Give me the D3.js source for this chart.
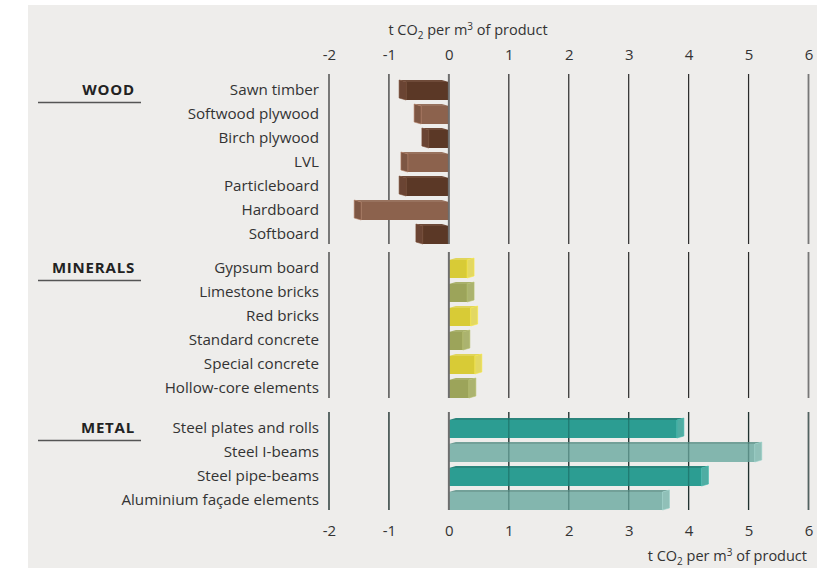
<!DOCTYPE html>
<html>
<head>
<meta charset="utf-8">
<script src="https://cdn.jsdelivr.net/npm/d3@7"></script>
<style>
  body { margin: 0; background: #fff; }
  svg { display: block; font-family: "Open Sans", "Noto Sans", sans-serif; }
</style>
</head>
<body>
<svg id="chart"></svg>
<script>
// chart data
const woodItems = ['Sawn timber', 'Softwood plywood', 'Birch plywood', 'LVL', 'Particleboard', 'Hardboard', 'Softboard'];
const woodValues = [-0.83, -0.58, -0.45, -0.80, -0.83, -1.58, -0.55];
const mineralItems = ['Gypsum board', 'Limestone bricks', 'Red bricks', 'Standard concrete', 'Special concrete', 'Hollow-core elements'];
const mineralValues = [0.42, 0.42, 0.48, 0.35, 0.55, 0.45];
const metalItems = ['Steel plates and rolls', 'Steel I-beams', 'Steel pipe-beams', 'Aluminium façade elements'];
const metalValues = [3.92, 5.22, 4.33, 3.68];
const tickValues = [-2, -1, 0, 1, 2, 3, 4, 5, 6];

// set up constants
const width = 817;
const height = 571;

// colours: [front, side, top] for the two alternating shades of each group
const woodShades = [['#5b3826', '#6a4433', '#6e4a38'], ['#8c624d', '#7d5643', '#98725e']];
const mineralShades = [['#d8cb36', '#e3d862', '#e0d55a'], ['#9ca45a', '#abb36f', '#a8b06b']];
const metalShades = [['#2c9d92', '#4fada3', '#2a857c'], ['#83b6ae', '#90c0b8', '#72a098']];

const groups = [
  { name: 'WOOD', items: woodItems, values: woodValues, shades: woodShades, top: 78, showLines: false },
  { name: 'MINERALS', items: mineralItems, values: mineralValues, shades: mineralShades, top: 256, showLines: false },
  { name: 'METAL', items: metalItems, values: metalValues, shades: metalShades, top: 416, showLines: true }
];

const rowH = 24;
const barH = 20;
const capW = 7;
const depth = 2;

const svg = d3.select('#chart')
  .attr('width', width)
  .attr('height', height);

// grey panel
svg.append('rect')
  .attr('x', 28).attr('y', 5)
  .attr('width', width - 28).attr('height', 563)
  .attr('fill', '#eeedeb');

// x scale
const x = d3.scaleLinear()
  .domain([-2, 6])
  .range([329, 808.5]);

// axes (labels only)
const topAxis = svg.append('g')
  .attr('transform', 'translate(0,60)')
  .call(d3.axisTop(x).tickValues(tickValues).tickSize(0).tickPadding(0).tickFormat(d => String(d)));
const bottomAxis = svg.append('g')
  .attr('transform', 'translate(0,525)')
  .call(d3.axisBottom(x).tickValues(tickValues).tickSize(0).tickPadding(0).tickFormat(d => String(d)));
[topAxis, bottomAxis].forEach(a => {
  a.select('.domain').remove();
  a.selectAll('text')
    .attr('fill', '#333')
    .style('font-size', '15px')
    .style('font-family', '"Open Sans", sans-serif');
});

// axis titles
function unitTitle(xPos, yPos, anchor) {
  const t = svg.append('text')
    .attr('x', xPos).attr('y', yPos)
    .attr('text-anchor', anchor)
    .attr('fill', '#333')
    .style('font-size', '14.5px');
  t.append('tspan').text('t CO');
  t.append('tspan').attr('dy', 4).style('font-size', '10px').text('2');
  t.append('tspan').attr('dy', -4).text(' per m');
  t.append('tspan').attr('dy', -5).style('font-size', '10px').text('3');
  t.append('tspan').attr('dy', 5).text(' of product');
}
unitTitle(468, 35, 'middle');
unitTitle(807, 561, 'end');

// draw one 3D bar
function drawBar(g, v, yc, shade) {
  const x0 = x(0);
  const xv = x(v);
  const yt = yc - barH / 2;
  const yb = yc + barH / 2;
  const [front, side, top] = shade;
  const bar = g.append('g');
  if (v < 0) {
    const xa = xv + capW;
    const xb = x0;
    bar.append('polygon')
      .attr('points', [[xa, yt + depth], [xa - capW, yt], [xb - capW, yt], [xb, yt + depth]].join(' '))
      .attr('fill', top);
    bar.append('rect')
      .attr('x', xa).attr('y', yt + depth)
      .attr('width', xb - xa).attr('height', barH - depth)
      .attr('fill', front);
    bar.append('polygon')
      .attr('points', [[xa, yt + depth], [xa - capW, yt], [xa - capW, yb - depth], [xa, yb]].join(' '))
      .attr('fill', side)
      .attr('stroke', d3.color(front).brighter(0.7))
      .attr('stroke-width', 0.6);
  } else {
    const xa = x0;
    const xb = xv - capW;
    bar.append('polygon')
      .attr('points', [[xa, yt + depth], [xa + capW, yt], [xb + capW, yt], [xb, yt + depth]].join(' '))
      .attr('fill', top);
    bar.append('rect')
      .attr('x', xa).attr('y', yt + depth)
      .attr('width', xb - xa).attr('height', barH - depth)
      .attr('fill', front);
    bar.append('polygon')
      .attr('points', [[xb, yt + depth], [xb + capW, yt], [xb + capW, yb - depth], [xb, yb]].join(' '))
      .attr('fill', side)
      .attr('stroke', d3.color(front).brighter(0.4))
      .attr('stroke-width', 0.6);
  }
}

groups.forEach(grp => {
  const y = d3.scaleBand()
    .domain(grp.items)
    .range([grp.top, grp.top + grp.items.length * rowH]);
  const g = svg.append('g');
  const y1 = grp.top - 4;
  const y2 = grp.top + grp.items.length * rowH - 2;
  const gridTicks = tickValues.filter(t => t !== 0);

  // gridlines
  g.selectAll('line.grid')
    .data(gridTicks)
    .enter()
    .append('line')
    .attr('class', 'grid')
    .attr('x1', d => x(d)).attr('x2', d => x(d))
    .attr('y1', y1).attr('y2', y2)
    .attr('stroke', d => d === 6 ? '#777' : '#2a2a2a')
    .attr('stroke-width', d => d === 6 ? 1.8 : 1.2);

  // bars
  grp.values.forEach((v, i) => {
    drawBar(g, v, y(grp.items[i]) + y.bandwidth() / 2, grp.shades[i % 2]);
  });

  // gridlines faintly showing through the bars
  if (grp.showLines) {
    g.selectAll('line.through')
      .data(gridTicks)
      .enter()
      .append('line')
      .attr('class', 'through')
      .attr('x1', d => x(d)).attr('x2', d => x(d))
      .attr('y1', y1).attr('y2', y2)
      .attr('stroke', '#0b3f3a')
      .attr('stroke-opacity', 0.35)
      .attr('stroke-width', 1.4);
  }

  // zero line on top
  g.append('line')
    .attr('x1', x(0)).attr('x2', x(0))
    .attr('y1', y1).attr('y2', y2)
    .attr('stroke', '#6e6e6e')
    .attr('stroke-width', 2);

  // item labels
  g.selectAll('text.item')
    .data(grp.items)
    .enter()
    .append('text')
    .attr('class', 'item')
    .attr('x', 319)
    .attr('y', d => y(d) + y.bandwidth() / 2)
    .attr('dy', '0.35em')
    .attr('text-anchor', 'end')
    .attr('fill', '#333')
    .style('font-size', '15.2px')
    .text(d => d);

  // group label with underline
  const gy = y(grp.items[0]) + y.bandwidth() / 2;
  g.append('text')
    .attr('x', 135)
    .attr('y', gy)
    .attr('dy', '0.35em')
    .attr('text-anchor', 'end')
    .attr('fill', '#222')
    .style('font-size', '15px')
    .style('font-weight', 'bold')
    .style('letter-spacing', '0.8px')
    .text(grp.name);
  g.append('line')
    .attr('x1', 38).attr('x2', 141)
    .attr('y1', gy + 12.5).attr('y2', gy + 12.5)
    .attr('stroke', '#555')
    .attr('stroke-width', 1.5);
});
</script>
</body>
</html>
